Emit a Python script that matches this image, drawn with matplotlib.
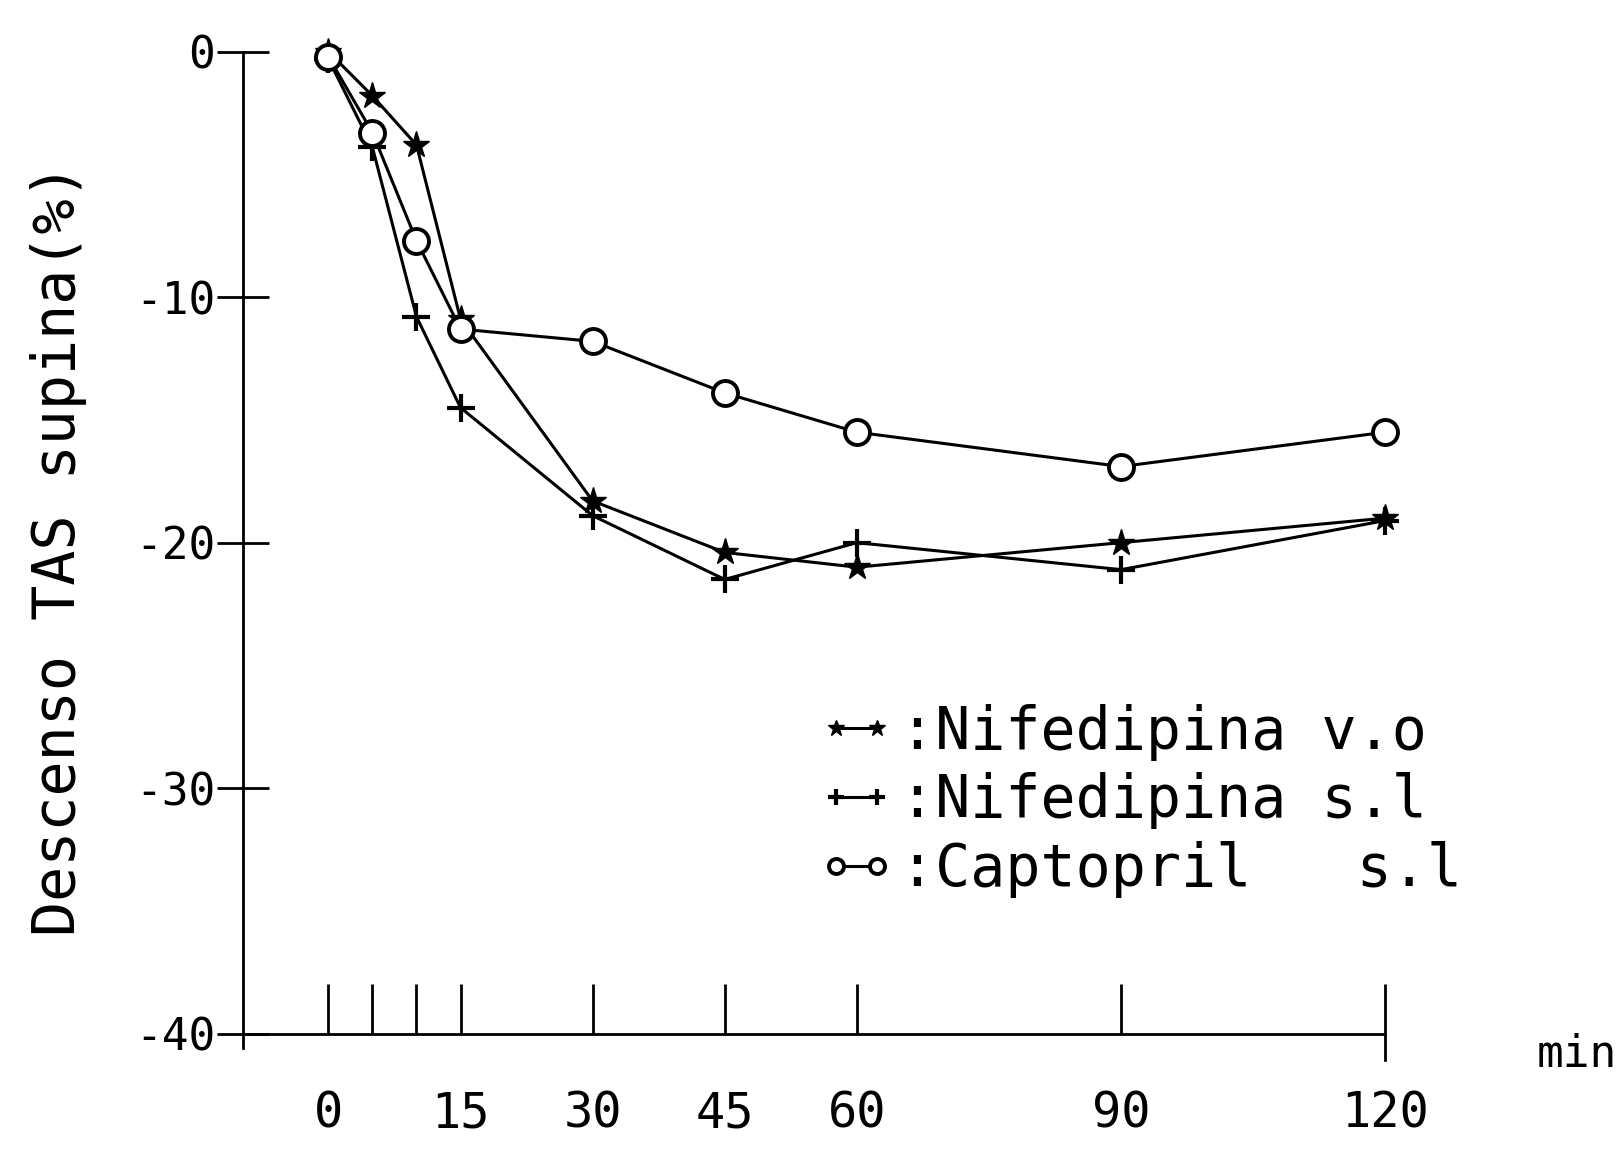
import numpy as np
import matplotlib
matplotlib.use("Agg")
import matplotlib.pyplot as plt

plt.rcParams['font.family'] = ['DejaVu Sans Mono', 'DejaVu Sans']

# time after dose (min)
minutos = [0, 5, 10, 15, 30, 45, 60, 90, 120]
# fall in supine systolic pressure (%)
nif_vo = [0.0, -1.8, -3.8, -10.9, -18.3, -20.4, -21.0, -20.0, -19.0]
nif_sl = [-0.3, -3.9, -10.8, -14.5, -18.9, -21.5, -20.0, -21.1, -19.1]
capto_sl = [-0.2, -3.3, -7.7, -11.3, -11.8, -13.9, -15.5, -16.9, -15.5]

xtick_pos = [0, 5, 10, 15, 30, 45, 60, 90, 120]
xtick_lab = ['0', '', '', '15', '30', '45', '60', '90', '120']
ytick_pos = [0, -10, -20, -30, -40]
ytick_lab = ['0', '-10', '-20', '-30', '-40']

fig = plt.figure(figsize=(16.21, 11.70), dpi=100)
ax = fig.add_axes([0.1499, 0.1166, 0.7047, 0.8392])

lw = 2.2
l1, = ax.plot(minutos, nif_vo, color='k', lw=lw, marker='*', ms=20,
              mfc='k', mec='k', clip_on=False, zorder=3)
l2, = ax.plot(minutos, nif_sl, color='k', lw=lw, marker='+', ms=20,
              mew=3, clip_on=False, zorder=3)
l3, = ax.plot(minutos, capto_sl, color='k', lw=lw, marker='o', ms=18,
              mfc='white', mec='k', mew=2.8, clip_on=False, zorder=4)

ax.set_xlim(-9.7, 120)
ax.set_ylim(-40, 0)

for s in ['top', 'right']:
    ax.spines[s].set_visible(False)
ax.spines['left'].set_linewidth(2)
ax.spines['bottom'].set_linewidth(2)
ax.spines['left'].set_bounds(-40.6, 0)

ax.set_xticks(xtick_pos)
ax.set_xticklabels(xtick_lab)
ax.tick_params(axis='x', which='major', direction='in', length=36, width=2,
               pad=40, labelsize=35)
# end tick at 120 also crosses below the axis
ax.axvline(120, ymin=-0.027, ymax=0, color='k', lw=2, clip_on=False)

ax.set_yticks(ytick_pos)
ax.set_yticklabels(ytick_lab)
ax.tick_params(axis='y', which='major', direction='inout', length=38, width=2,
               pad=1, labelsize=32)

fig.text(0.036, 0.53, 'Descenso TAS supina(%)', rotation=90,
         ha='center', va='center', fontsize=42)
fig.text(0.973, 0.099, 'min', ha='center', va='center', fontsize=32)

ax.legend([l1, l2, l3],
          [':Nifedipina v.o', ':Nifedipina s.l', ':Captopril   s.l'],
          loc='center left', bbox_to_anchor=(0.478, 0.237), frameon=False,
          numpoints=2, handlelength=1.3, handletextpad=0.1,
          labelspacing=0.2, borderpad=0, fontsize=42, markerscale=0.6)

fig.savefig('out.png', dpi=100)
